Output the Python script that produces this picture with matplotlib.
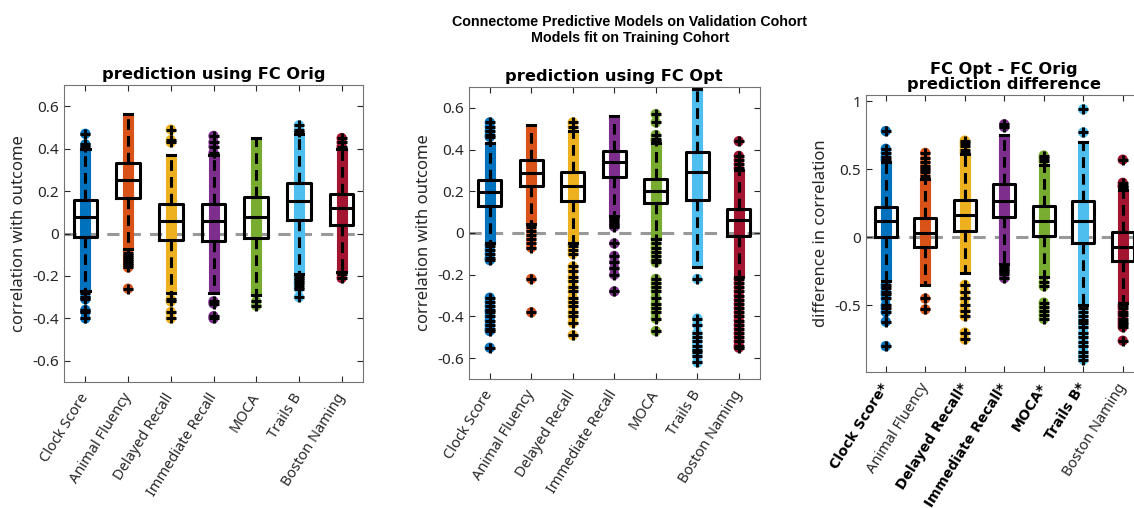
import matplotlib
matplotlib.use("Agg")
import matplotlib.pyplot as plt

# categories and colours (MATLAB default line colours)
cats = ["Clock Score", "Animal Fluency", "Delayed Recall", "Immediate Recall",
        "MOCA", "Trails B", "Boston Naming"]
colors = ["#0072BD", "#D95319", "#EDB120", "#7E2F8E", "#77AC30", "#4DBEEE", "#A2142F"]
bold_diff = [True, False, True, True, True, True, False]

# panel 1: prediction using FC Orig
orig_q1 = [-0.016, 0.166, -0.030, -0.036, -0.020, 0.063, 0.039]
orig_med = [0.077, 0.254, 0.061, 0.058, 0.077, 0.154, 0.122]
orig_q3 = [0.160, 0.330, 0.141, 0.141, 0.170, 0.240, 0.188]
orig_wlo = [-0.27, -0.075, -0.28, -0.28, -0.29, -0.19, -0.18]
orig_whi = [0.40, 0.565, 0.37, 0.37, 0.45, 0.47, 0.40]
orig_out = [
    [0.47, 0.42, 0.41, -0.28, -0.30, -0.31, -0.36, -0.37, -0.40],
    [-0.09, -0.10, -0.11, -0.12, -0.13, -0.14, -0.15, -0.16, -0.26],
    [0.49, 0.44, 0.43, -0.31, -0.32, -0.37, -0.40],
    [0.46, 0.43, 0.41, 0.38, -0.32, -0.33, -0.39, -0.40],
    [-0.32, -0.34],
    [0.51, 0.49, 0.48, -0.20, -0.21, -0.22, -0.23, -0.24, -0.25, -0.26, -0.30],
    [0.45, 0.43, 0.41, -0.19, -0.21],
]

# panel 2: prediction using FC Opt
opt_q1 = [0.131, 0.224, 0.152, 0.267, 0.144, 0.160, -0.016]
opt_med = [0.195, 0.288, 0.227, 0.339, 0.203, 0.291, 0.061]
opt_q3 = [0.256, 0.349, 0.291, 0.392, 0.259, 0.389, 0.115]
opt_wlo = [-0.05, 0.045, -0.05, 0.08, -0.027, -0.163, -0.21]
opt_whi = [0.43, 0.52, 0.49, 0.56, 0.43, 0.69, 0.30]
opt_out = [
    [0.53, 0.51, 0.49, 0.47, 0.46, -0.06, -0.08, -0.10, -0.12, -0.13, -0.31, -0.33,
     -0.35, -0.37, -0.38, -0.40, -0.42, -0.44, -0.46, -0.47, -0.55],
    [0.03, 0.01, -0.01, -0.03, -0.05, -0.07, -0.22, -0.38],
    [0.53, 0.51, -0.06, -0.08, -0.10, -0.16, -0.18, -0.21, -0.23, -0.26, -0.28, -0.31,
     -0.33, -0.35, -0.38, -0.40, -0.43, -0.49],
    [0.07, 0.06, 0.05, 0.04, 0.03, -0.05, -0.11, -0.14, -0.17, -0.20, -0.28],
    [0.57, 0.53, 0.47, 0.45, 0.44, -0.03, -0.05, -0.07, -0.09, -0.11, -0.13, -0.14,
     -0.22, -0.24, -0.26, -0.28, -0.31, -0.34, -0.36, -0.38, -0.41, -0.47],
    [-0.22, -0.41, -0.44, -0.48, -0.50, -0.52, -0.54, -0.56, -0.57, -0.59, -0.62],
    [0.44, 0.37, 0.35, 0.33, 0.31, -0.22, -0.24, -0.26, -0.28, -0.30, -0.32, -0.34,
     -0.36, -0.38, -0.40, -0.42, -0.44, -0.46, -0.48, -0.50, -0.52, -0.54, -0.55],
]

# panel 3: difference Opt - Orig
diff_q1 = [0.000, -0.069, 0.049, 0.146, 0.012, -0.044, -0.175]
diff_med = [0.121, 0.030, 0.165, 0.269, 0.121, 0.116, -0.069]
diff_q3 = [0.222, 0.141, 0.277, 0.393, 0.232, 0.264, 0.035]
diff_wlo = [-0.32, -0.35, -0.26, -0.20, -0.29, -0.50, -0.48]
diff_whi = [0.55, 0.43, 0.61, 0.75, 0.53, 0.70, 0.35]
diff_out = [
    [0.78, 0.65, 0.62, 0.59, 0.57, -0.35, -0.37, -0.40, -0.42, -0.45, -0.50, -0.52,
     -0.55, -0.62, -0.80],
    [0.62, 0.58, 0.55, 0.52, 0.50, 0.48, 0.45, -0.45, -0.53],
    [0.71, 0.69, 0.67, 0.64, 0.62, -0.35, -0.40, -0.45, -0.50, -0.54, -0.58, -0.70, -0.75],
    [0.83, 0.81, -0.21, -0.23, -0.25, -0.27, -0.30],
    [0.60, 0.58, 0.56, -0.33, -0.36, -0.48, -0.51, -0.54, -0.57, -0.60],
    [0.94, 0.77, -0.52, -0.55, -0.58, -0.61, -0.63, -0.66, -0.70, -0.73, -0.77, -0.80,
     -0.84, -0.87, -0.90],
    [0.57, 0.40, 0.38, 0.37, -0.50, -0.52, -0.55, -0.57, -0.60, -0.62, -0.64, -0.66, -0.76],
]

LBL_FONT = "Noto Sans"
TXT_COL = "#262626"


def draw_panel(ax, q1, med, q3, wlo, whi, outs):
    pos = list(range(1, len(cats) + 1))
    ax.axhline(0, color="0.6", lw=2.2, ls=(0, (4, 3)), zorder=1)
    # dense column of points
    ax.vlines(pos, wlo, whi, colors=colors, lw=8, zorder=2)
    for p, c, o in zip(pos, colors, outs):
        ax.scatter([p] * len(o), o, s=55, color=c, edgecolors="none", zorder=2)
    stats = []
    for i in range(len(cats)):
        stats.append(dict(med=med[i], q1=q1[i], q3=q3[i], whislo=wlo[i],
                          whishi=whi[i], fliers=outs[i]))
    ax.bxp(stats, positions=pos, widths=0.55, capwidths=0.2, manage_ticks=False,
           boxprops=dict(color="k", lw=2.2),
           medianprops=dict(color="k", lw=2.2),
           whiskerprops=dict(color="k", lw=2.2, ls=(0, (3.5, 2))),
           capprops=dict(color="k", lw=2.2),
           flierprops=dict(marker="+", markersize=7, markeredgecolor="k",
                           markeredgewidth=2.2),
           zorder=3)
    ax.set_xlim(0.5, len(cats) + 0.5)
    ax.set_xticks(pos)
    ax.tick_params(direction="in", top=True, right=True, colors=TXT_COL,
                   length=4, labelsize=10.5)
    ax.tick_params(axis="x", pad=9)
    for s in ax.spines.values():
        s.set_color("0.45")
        s.set_linewidth(0.8)


fig = plt.figure(figsize=(11.34, 5.08), dpi=100)
ax1 = fig.add_axes([64 / 1134, 126 / 508, 299 / 1134, 297 / 508])
ax2 = fig.add_axes([469 / 1134, 129 / 508, 290.5 / 1134, 292 / 508])
ax3 = fig.add_axes([866 / 1134, 136 / 508, 276.5 / 1134, 277 / 508])

draw_panel(ax1, orig_q1, orig_med, orig_q3, orig_wlo, orig_whi, orig_out)
draw_panel(ax2, opt_q1, opt_med, opt_q3, opt_wlo, opt_whi, opt_out)
draw_panel(ax3, diff_q1, diff_med, diff_q3, diff_wlo, diff_whi, diff_out)

for ax in (ax1, ax2):
    ax.set_ylim(-0.7, 0.7)
    ax.set_yticks([-0.6, -0.4, -0.2, 0, 0.2, 0.4, 0.6])
    ax.set_yticklabels(["-0.6", "-0.4", "-0.2", "0", "0.2", "0.4", "0.6"],
                       fontfamily=LBL_FONT, fontsize=11)
    ax.set_ylabel("correlation with outcome", fontsize=12, color=TXT_COL,
                  fontfamily=LBL_FONT)
    ax.set_xticklabels(cats, rotation=58, ha="right", va="center",
                       rotation_mode="anchor", fontfamily=LBL_FONT, fontsize=10.5)

ax3.set_ylim(-0.99, 1.045)
ax3.set_yticks([-0.5, 0, 0.5, 1])
ax3.set_yticklabels(["-0.5", "0", "0.5", "1"], fontfamily=LBL_FONT, fontsize=11)
ax3.set_ylabel("difference in correlation", fontsize=12, color=TXT_COL,
               fontfamily=LBL_FONT)
ax3.set_xticklabels([c + "*" if b else c for c, b in zip(cats, bold_diff)],
                    rotation=58, ha="right", va="center", rotation_mode="anchor",
                    fontfamily=LBL_FONT, fontsize=10.5)
for t, b in zip(ax3.get_xticklabels(), bold_diff):
    if b:
        t.set_fontfamily("DejaVu Sans")
        t.set_fontweight("bold")
        t.set_fontsize(10)
        t.set_color("black")

ax1.set_title("prediction using FC Orig", fontweight="bold", fontsize=11.7,
              fontfamily="DejaVu Sans", pad=4)
ax2.set_title("prediction using FC Opt", fontweight="bold", fontsize=11.7,
              fontfamily="DejaVu Sans", pad=4)
ax3.set_title("FC Opt - FC Orig\nprediction difference", fontweight="bold",
              fontsize=11.7, fontfamily="DejaVu Sans", pad=4, linespacing=1.0)

fig.text(630 / 1134, 1 - 30 / 508,
         "Connectome Predictive Models on Validation Cohort\nModels fit on Training Cohort",
         ha="center", va="center", fontweight="bold", fontsize=10.3,
         fontfamily="Liberation Sans", linespacing=1.2)

fig.savefig("out.png", dpi=100)
